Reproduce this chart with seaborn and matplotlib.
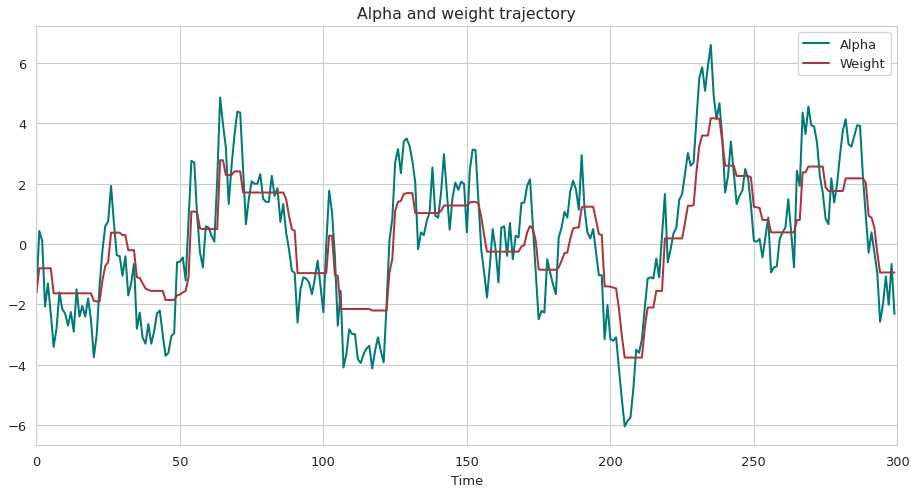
import numpy as np
import pandas as pd
import matplotlib
matplotlib.use("Agg")
import matplotlib.pyplot as plt
import seaborn as sns

# values, one per time step (0..299)
alpha = [
    -1.6, 0.44, 0.11, -2.07, -1.3, -2.3, -3.4, -2.8, -1.6, -2.15,
    -2.3, -2.7, -2.25, -2.9, -1.5, -2.4, -2.05, -2.4, -1.8, -2.5,
    -3.75, -3.0, -1.4, -0.2, 0.6, 0.75, 1.93, 0.7, -0.37, -0.4,
    -1.05, -0.4, -1.7, -1.3, -0.65, -2.8, -2.27, -3.1, -3.3, -2.65,
    -3.3, -2.9, -2.3, -2.2, -3.0, -3.7, -3.6, -3.05, -2.95, -0.6,
    -0.58, -0.44, -1.2, 0.8, 2.76, 2.7, 0.94, -0.28, -0.77, 0.59,
    0.55, 0.28, 0.08, 2.15, 4.86, 3.98, 3.2, 1.33, 2.6, 3.6,
    4.39, 4.36, 2.49, 0.66, 1.5, 2.08, 2.0, 2.0, 2.32, 1.5,
    1.4, 1.4, 2.26, 1.6, 1.85, 0.74, 1.33, 0.39, -0.17, -0.88,
    -0.96, -2.6, -1.5, -1.1, -1.14, -1.27, -1.66, -1.15, -0.55, -1.4,
    -2.26, 0.0, 1.77, 1.05, -0.39, -2.7, -1.55, -4.09, -3.65, -2.82,
    -2.98, -2.98, -3.81, -3.94, -3.65, -3.46, -3.37, -4.12, -3.54, -3.09,
    -3.54, -3.92, -2.04, 0.11, 0.83, 2.7, 3.15, 2.35, 3.4, 3.5,
    3.26, 2.76, 2.04, -0.17, 0.39, 0.3, 0.77, 1.05, 2.54, 0.94,
    0.88, 1.71, 2.98, 1.71, 0.48, 1.55, 2.04, 1.8, 2.07, 2.0,
    0.39, 2.43, 3.13, 3.12, 1.5, -0.17, -0.94, -1.77, -0.72, 0.5,
    -0.17, -1.27, 0.55, 0.59, -0.39, 0.7, -0.5, 0.28, 0.22, 1.36,
    1.38, 1.93, 2.15, 0.61, -0.94, -2.49, -2.21, -2.27, -0.5, -0.94,
    -1.33, -1.66, 0.22, 0.55, 1.07, 0.88, 1.74, 2.1, 1.82, 1.14,
    2.95, 1.16, 0.39, 0.19, 0.5, -0.28, -1.03, -1.03, -3.15, -2.02,
    -3.15, -3.2, -3.09, -4.14, -5.14, -6.04, -5.86, -5.75, -4.8, -3.5,
    -3.6, -3.15, -2.1, -1.14, -1.1, -1.14, -0.48, -1.1, 0.28, 1.66,
    -0.6, -0.17, 0.36, 0.55, 1.47, 1.66, 2.32, 3.02, 2.6, 2.7,
    4.14, 5.52, 5.86, 5.08, 5.91, 6.6, 4.92, 4.14, 4.67, 3.54,
    1.71, 2.26, 3.4, 2.38, 1.33, 1.6, 1.77, 2.49, 2.18, 1.27,
    0.11, 0.08, 0.17, -0.44, 0.22, 0.88, -0.94, -0.77, -0.74, 0.17,
    0.39, 0.55, 1.49, 0.39, -0.77, 2.43, 1.93, 4.36, 3.65, 4.56,
    3.94, 3.9, 3.37, 2.26, 1.71, 0.85, 0.66, 2.18, 1.38, 1.99,
    2.93, 3.76, 4.14, 3.31, 3.23, 3.59, 3.94, 3.92, 2.26, 0.94,
    -0.28, 0.39, -0.28, -0.94, -2.57, -1.99, -1.07, -2.01, -0.66, -2.32,
]

weight = [
    -1.6, -0.8, -0.8, -0.8, -0.8, -0.8, -1.63, -1.63, -1.63, -1.63,
    -1.63, -1.63, -1.63, -1.63, -1.63, -1.63, -1.63, -1.63, -1.63, -1.63,
    -1.88, -1.9, -1.9, -1.2, -0.72, -0.6, 0.38, 0.38, 0.38, 0.38,
    0.3, 0.3, -0.2, -0.2, -0.2, -1.1, -1.12, -1.3, -1.47, -1.52,
    -1.55, -1.55, -1.55, -1.55, -1.55, -1.85, -1.85, -1.85, -1.85, -1.7,
    -1.67, -1.6, -1.55, -1.1, 1.08, 1.08, 1.05, 0.52, 0.5, 0.5,
    0.5, 0.5, 0.5, 0.5, 2.78, 2.78, 2.29, 2.29, 2.29, 2.41,
    2.41, 2.41, 1.71, 1.71, 1.71, 1.71, 1.71, 1.71, 1.71, 1.71,
    1.71, 1.71, 1.71, 1.71, 1.71, 1.71, 1.71, 1.5, 0.94, 0.5,
    0.44, -0.96, -0.96, -0.96, -0.96, -0.96, -0.96, -0.96, -0.96, -0.96,
    -0.96, -0.96, 0.28, 0.28, -1.03, -1.05, -2.15, -2.15, -2.15, -2.15,
    -2.15, -2.15, -2.15, -2.15, -2.15, -2.15, -2.15, -2.2, -2.2, -2.2,
    -2.2, -2.2, -2.2, -0.94, -0.5, 1.1, 1.4, 1.43, 1.66, 1.69,
    1.69, 1.69, 1.03, 1.03, 1.03, 1.03, 1.03, 1.03, 1.03, 1.03,
    1.03, 1.1, 1.28, 1.28, 1.28, 1.28, 1.28, 1.28, 1.28, 1.28,
    1.28, 1.38, 1.4, 1.4, 1.35, 0.9, 0.3, -0.25, -0.25, -0.25,
    -0.25, -0.25, -0.25, -0.25, -0.25, -0.25, -0.25, -0.25, -0.25, -0.08,
    -0.03, 0.39, 0.6, 0.5, 0.11, -0.83, -0.85, -0.85, -0.85, -0.85,
    -0.85, -0.85, -0.77, -0.55, -0.3, -0.28, 0.17, 0.52, 0.55, 0.55,
    1.22, 1.24, 1.24, 1.24, 1.24, 0.8, 0.33, 0.3, -1.4, -1.4,
    -1.41, -1.44, -1.47, -2.15, -3.04, -3.76, -3.76, -3.76, -3.76, -3.76,
    -3.76, -3.76, -2.76, -2.1, -2.1, -2.1, -1.55, -1.55, -1.55, 0.19,
    0.19, 0.19, 0.19, 0.19, 0.19, 0.19, 0.7, 1.27, 1.27, 1.29,
    2.4, 3.26, 3.6, 3.6, 3.6, 4.17, 4.17, 4.17, 4.15, 3.4,
    2.6, 2.6, 2.6, 2.6, 2.26, 2.26, 2.26, 2.26, 2.26, 2.21,
    1.24, 1.22, 1.2, 0.8, 0.8, 0.8, 0.39, 0.39, 0.39, 0.39,
    0.39, 0.39, 0.39, 0.39, 0.39, 0.8, 0.8, 2.38, 2.38, 2.57,
    2.57, 2.57, 2.57, 2.57, 2.57, 1.88, 1.76, 1.76, 1.76, 1.76,
    1.76, 1.76, 2.18, 2.18, 2.18, 2.18, 2.18, 2.18, 2.18, 2.04,
    0.94, 0.88, 0.55, -0.28, -0.94, -0.94, -0.94, -0.94, -0.94, -0.94,
]

df = pd.DataFrame({"Time": np.arange(len(alpha)), "Alpha": alpha, "Weight": weight})

sns.set_style("whitegrid")
plt.rcParams.update({"xtick.labelsize": 9.4, "ytick.labelsize": 9.4,
                     "axes.labelsize": 9.4, "legend.fontsize": 9.4})
plt.figure(figsize=(9.11, 4.89), dpi=100)
sns.lineplot(x="Time", y="Alpha", data=df, color="#007a76", linewidth=1.45, label="Alpha")
sns.lineplot(x="Time", y="Weight", data=df, color="#ad343a", linewidth=1.45, label="Weight")
plt.title("Alpha and weight trajectory", fontsize=11.3)
plt.xlabel("Time")
plt.ylabel("")
plt.xlim(0, 300)
plt.legend(loc="upper right")
plt.subplots_adjust(left=0.04, right=0.985, top=0.945, bottom=0.087)
plt.savefig("out.png", dpi=100)
